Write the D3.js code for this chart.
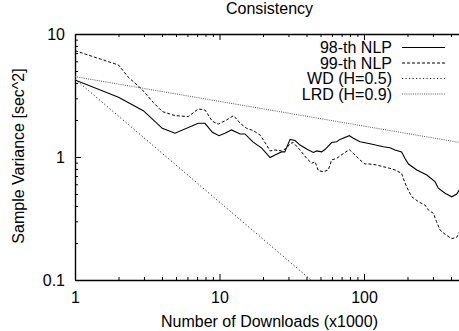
<!DOCTYPE html>
<html><head><meta charset="utf-8">
<script src="https://cdn.jsdelivr.net/npm/d3@7/dist/d3.min.js"></script>
<style>
html,body{margin:0;padding:0;background:#fff;}
svg{display:block;font-family:"Liberation Sans",Arial,sans-serif;}
</style></head>
<body><svg id="c" width="459" height="331"></svg>
<script>
const title = "Consistency";
const xLabel = "Number of Downloads (x1000)";
const yLabel = "Sample Variance [sec^2]";
const xMajor = [1, 10, 100];
const xMajorLabels = ["1", "10", "100"];
const xMinor = [2,3,4,5,6,7,8,9,20,30,40,50,60,70,80,90,200,300,400];
const yMajor = [0.1, 1, 10];
const yMajorLabels = ["0.1", "1", "10"];
const yMinor = [0.2,0.3,0.4,0.5,0.6,0.7,0.8,0.9,2,3,4,5,6,7,8,9];
const seriesNames = ["98-th NLP", "99-th NLP", "WD (H=0.5)", "LRD (H=0.9)"];

const nlp98X = [1, 2.0, 2.97, 4.02, 4.92, 7.13, 7.94, 8.92, 9.93, 10.9, 12.1, 13.9, 15.0, 17.1, 19.6, 22.4, 24.2, 26.9, 28.3, 30.8, 33.3, 36.1, 40.1, 44.6, 47.1, 50.9, 53.7, 59.7, 64.7, 68.2, 79.1, 84.4, 93.8, 110, 136, 151, 164, 182, 192, 203, 232, 272, 310, 327, 364, 405, 438, 457];
const nlp98Y = [4.23, 3.06, 2.38, 1.71, 1.56, 1.88, 1.88, 1.59, 1.49, 1.56, 1.66, 1.54, 1.54, 1.32, 1.18, 0.99, 1.04, 1.10, 1.10, 1.39, 1.36, 1.25, 1.16, 1.09, 1.12, 1.10, 1.15, 1.31, 1.33, 1.39, 1.49, 1.42, 1.33, 1.28, 1.21, 1.19, 1.14, 1.10, 0.975, 0.877, 0.784, 0.714, 0.63, 0.557, 0.507, 0.475, 0.50, 0.54];

const nlp99X = [1, 2.0, 2.34, 2.89, 3.48, 4.02, 4.92, 6.08, 7.13, 7.94, 8.92, 9.8, 11.2, 12.5, 13.9, 15.4, 17.1, 19.1, 21.2, 22.4, 24.2, 26.9, 29.2, 30.8, 32.4, 36.1, 40.1, 43.5, 45.8, 48.3, 52.3, 56.6, 59.7, 64.7, 68.2, 79.1, 84.4, 93.8, 101.6, 110, 122.5, 136, 151, 164, 182, 187, 197, 214, 238, 264, 279, 302, 318, 336, 364, 405, 438, 457];
const nlp99Y = [7.31, 5.6, 4.45, 3.57, 2.78, 2.34, 2.17, 2.13, 2.46, 2.41, 1.95, 1.85, 2.0, 2.17, 1.88, 1.71, 1.64, 1.51, 1.25, 1.12, 1.14, 1.12, 1.18, 1.29, 1.31, 1.14, 0.975, 0.889, 0.917, 0.774, 0.759, 0.784, 0.946, 0.975, 1.02, 1.15, 1.07, 0.946, 0.877, 0.877, 0.861, 0.834, 0.809, 0.784, 0.737, 0.671, 0.574, 0.475, 0.433, 0.407, 0.371, 0.348, 0.298, 0.255, 0.235, 0.217, 0.222, 0.245];

const wdX = [1, 43];
const wdY = [4.3, 0.1];
const lrdX = [1, 500];
const lrdY = [4.5, 1.29];

const svg = d3.select("#c");
const L = 75, T = 34, B = 280;
const x = d3.scaleLog().domain([1, 500]).range([L, L + 144.5 * Math.log10(500)]);
const y = d3.scaleLog().domain([0.1, 10]).range([B, T]);

const fs = 16;
svg.append("defs").append("clipPath").attr("id","clip")
  .append("rect").attr("x", L).attr("y", T).attr("width", 459 - L).attr("height", B - T);

function styleAxis(g){
  g.select(".domain").attr("stroke","#000").attr("stroke-width",1.4);
  g.selectAll(".tick line").attr("stroke","#000").attr("stroke-width",1);
  g.selectAll(".tick text").attr("font-size", fs).attr("fill","#000").attr("font-family","Liberation Sans, Arial, sans-serif");
}
// bottom axis
const gb = svg.append("g").attr("transform",`translate(0,${B})`)
  .call(d3.axisBottom(x).tickValues(xMajor).tickFormat((d,i)=>xMajorLabels[i]).tickSizeInner(-6).tickSizeOuter(0).tickPadding(8));
styleAxis(gb);
gb.selectAll(".tick text").attr("dy","0.95em");
svg.append("g").attr("transform",`translate(0,${B})`)
  .call(d3.axisBottom(x).tickValues(xMinor).tickFormat("").tickSizeInner(-3).tickSizeOuter(0))
  .call(g=>{g.select(".domain").remove(); g.selectAll(".tick line").attr("stroke","#000");});
// top axis
const gt = svg.append("g").attr("transform",`translate(0,${T})`)
  .call(d3.axisTop(x).tickValues(xMajor).tickFormat("").tickSizeInner(-6).tickSizeOuter(0));
styleAxis(gt);
svg.append("g").attr("transform",`translate(0,${T})`)
  .call(d3.axisTop(x).tickValues(xMinor).tickFormat("").tickSizeInner(-3).tickSizeOuter(0))
  .call(g=>{g.select(".domain").remove(); g.selectAll(".tick line").attr("stroke","#000");});
// left axis
const gl = svg.append("g").attr("transform",`translate(${L},0)`)
  .call(d3.axisLeft(y).tickValues(yMajor).tickFormat((d,i)=>yMajorLabels[i]).tickSizeInner(-6).tickSizeOuter(0).tickPadding(10));
styleAxis(gl);
svg.append("g").attr("transform",`translate(${L},0)`)
  .call(d3.axisLeft(y).tickValues(yMinor).tickFormat("").tickSizeInner(-3).tickSizeOuter(0))
  .call(g=>{g.select(".domain").remove(); g.selectAll(".tick line").attr("stroke","#000");});

// lines
const line = d3.line().x(d=>x(d[0])).y(d=>y(d[1]));
const plot = svg.append("g").attr("clip-path","url(#clip)");
const series = [
  {xs: nlp98X, ys: nlp98Y, dash: null, color:"#000", w:1.1},
  {xs: nlp99X, ys: nlp99Y, dash: "3,2", color:"#000", w:1},
  {xs: wdX, ys: wdY, dash: "1.2,2.3", color:"#222", w:1},
  {xs: lrdX, ys: lrdY, dash: "1,1.2", color:"#555", w:1}
];
series.forEach(s=>{
  plot.append("path").datum(s.xs.map((v,i)=>[v, s.ys[i]]))
    .attr("d", line).attr("fill","none").attr("stroke", s.color)
    .attr("stroke-width", s.w).attr("stroke-dasharray", s.dash);
});

// legend
seriesNames.forEach((n,i)=>{
  const by = 53 + 15.5*i;
  svg.append("text").attr("x",392).attr("y",by).attr("text-anchor","end")
    .attr("font-size",fs).text(n);
  svg.append("line").attr("x1",402).attr("x2",445).attr("y1",by-5.5).attr("y2",by-5.5)
    .attr("stroke", series[i].color).attr("stroke-width", series[i].w)
    .attr("stroke-dasharray", series[i].dash);
});

// titles
svg.append("text").attr("x",269.5).attr("y",14).attr("text-anchor","middle").attr("font-size",fs).text(title);
svg.append("text").attr("x",269.5).attr("y",327).attr("text-anchor","middle").attr("font-size",fs).text(xLabel);
svg.append("text").attr("transform","translate(24,156) rotate(-90)").attr("text-anchor","middle").attr("font-size",fs).text(yLabel);
</script></body></html>
